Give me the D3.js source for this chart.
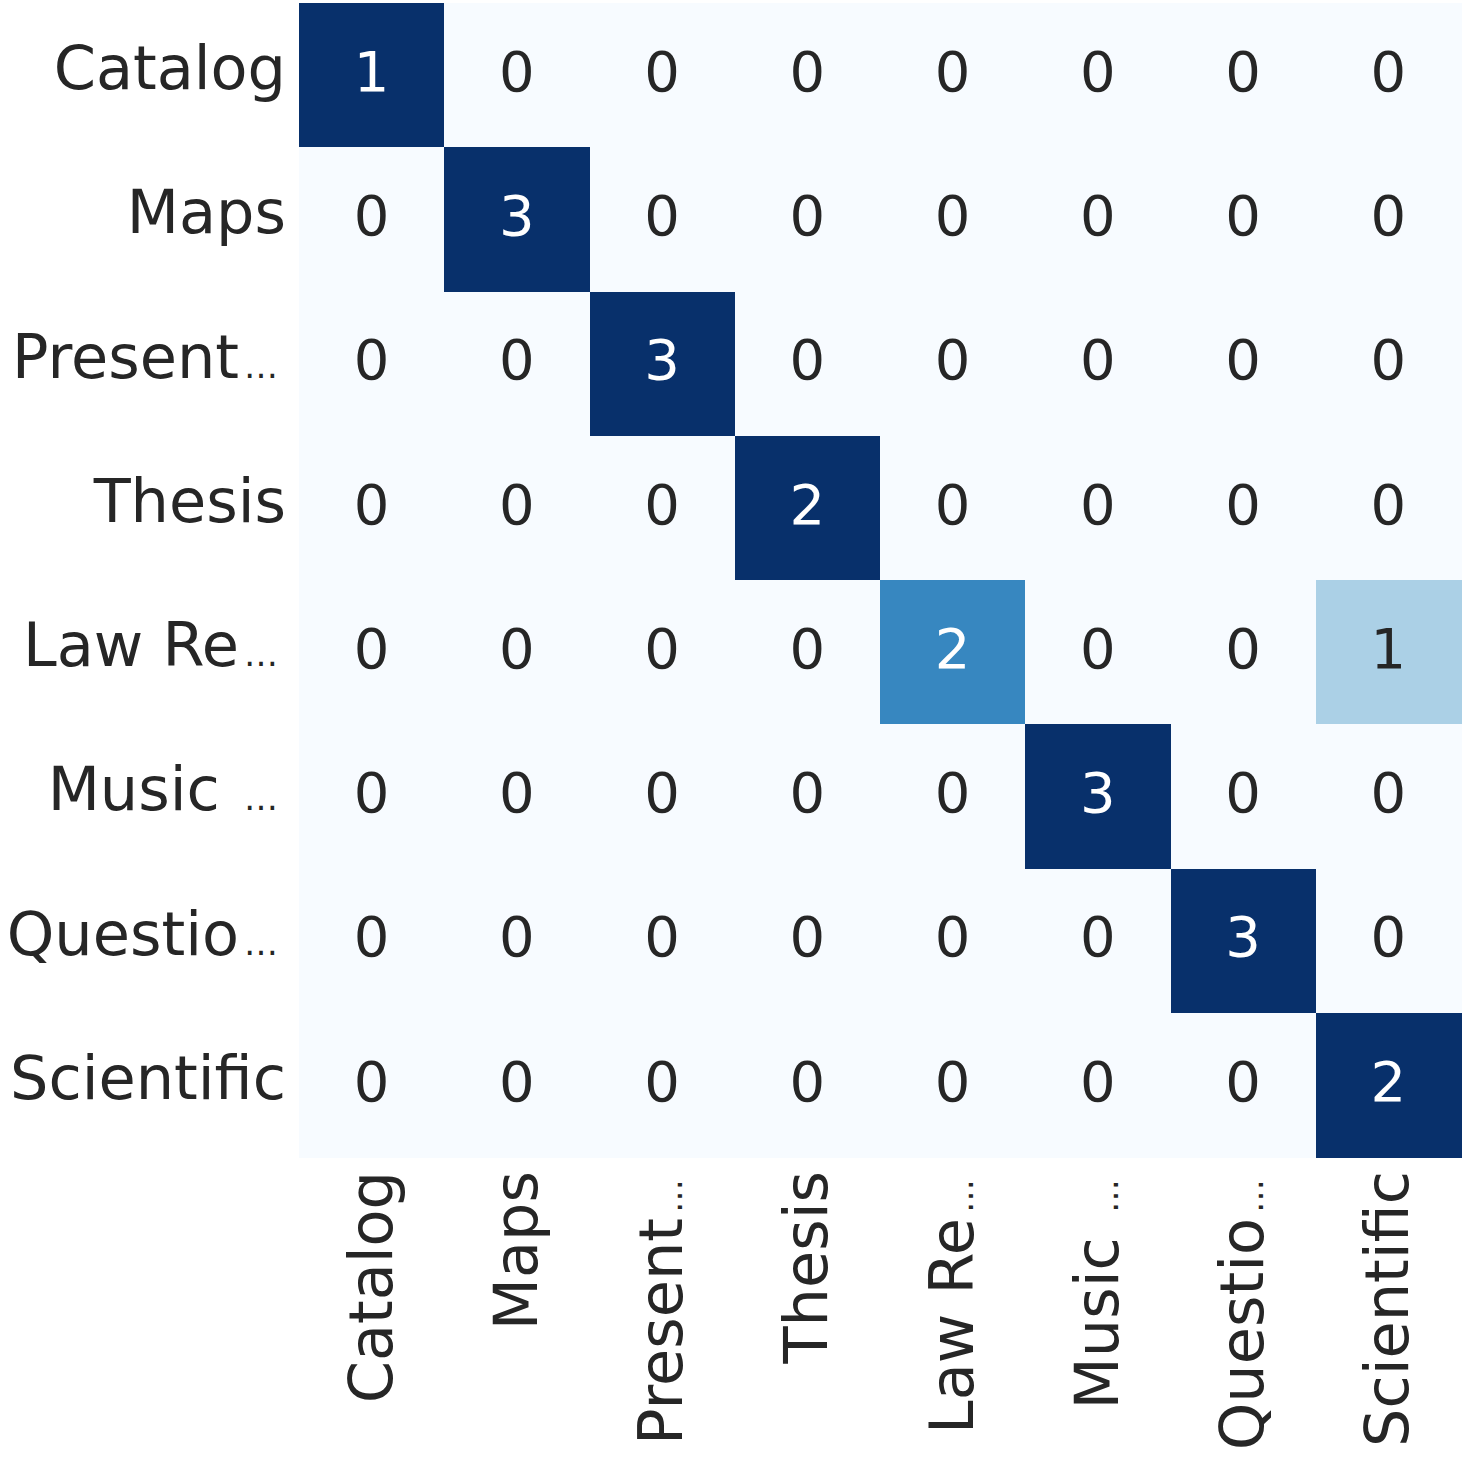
<!DOCTYPE html>
<html>
<head>
<meta charset="utf-8">
<script src="https://cdn.jsdelivr.net/npm/d3@7"></script>
<style>
  html, body { margin: 0; padding: 0; background: #ffffff; }
  svg { display: block; }
</style>
</head>
<body>
<svg id="chart" width="1470" height="1462"></svg>
<script>
// ---- data ----
const categories = ["Catalog", "Maps", "Present…", "Thesis", "Law Re…", "Music …", "Questio…", "Scientific"];
const rowCatalog    = [1, 0, 0, 0, 0, 0, 0, 0];
const rowMaps       = [0, 3, 0, 0, 0, 0, 0, 0];
const rowPresent    = [0, 0, 3, 0, 0, 0, 0, 0];
const rowThesis     = [0, 0, 0, 2, 0, 0, 0, 0];
const rowLawRe      = [0, 0, 0, 0, 2, 0, 0, 1];
const rowMusic      = [0, 0, 0, 0, 0, 3, 0, 0];
const rowQuestio    = [0, 0, 0, 0, 0, 0, 3, 0];
const rowScientific = [0, 0, 0, 0, 0, 0, 0, 2];
const matrix = [rowCatalog, rowMaps, rowPresent, rowThesis, rowLawRe, rowMusic, rowQuestio, rowScientific];
const bluesStops = ["#f7fbff", "#deebf7", "#c6dbef", "#9ecae1", "#6baed6", "#4292c6", "#2171b5", "#08519c", "#08306b"];

// ---- layout ----
const margin = { left: 299, top: 3, width: 1162, height: 1154 };
const labelFont = 60.5, annotFont = 56, ellipsisFont = 34, ellipsisShift = 8;
const svg = d3.select("#chart");

const x = d3.scaleBand().domain(categories).range([margin.left, margin.left + margin.width]).padding(0);
const y = d3.scaleBand().domain(categories).range([margin.top, margin.top + margin.height]).padding(0);
const color = d3.scaleLinear()
  .domain(bluesStops.map((_, i) => i / (bluesStops.length - 1)))
  .range(bluesStops)
  .interpolate(d3.interpolateRgb);

const cells = [];
matrix.forEach((row, i) => {
  const total = d3.sum(row);
  row.forEach((v, j) => {
    cells.push({ r: categories[i], c: categories[j], v, norm: total ? v / total : 0 });
  });
});

svg.append("g").selectAll("rect").data(cells).join("rect")
  .attr("x", d => x(d.c))
  .attr("y", d => y(d.r))
  .attr("width", x.bandwidth() + 0.5)
  .attr("height", y.bandwidth() + 0.5)
  .attr("fill", d => color(d.norm))
  .attr("shape-rendering", "crispEdges");

function lum(hex) {
  const c = d3.rgb(hex);
  const f = v => { v /= 255; return v <= 0.03928 ? v / 12.92 : Math.pow((v + 0.055) / 1.055, 2.4); };
  return 0.2126 * f(c.r) + 0.7152 * f(c.g) + 0.0722 * f(c.b);
}

svg.append("g").selectAll("text").data(cells).join("text")
  .attr("x", d => x(d.c) + x.bandwidth() / 2)
  .attr("y", d => y(d.r) + y.bandwidth() / 2 + annotFont * 0.28)
  .attr("text-anchor", "middle")
  .attr("font-family", "DejaVu Sans")
  .attr("font-size", annotFont)
  .attr("fill", d => lum(color(d.norm)) > 0.408 ? "#262626" : "#ffffff")
  .text(d => d.v);

// label writer: a truncated label's trailing ellipsis is drawn small, as in the reference
function writeLabel(sel) {
  sel.each(function(d) {
    const t = d3.select(this);
    t.text(null);
    if (d.endsWith("…")) {
      t.append("tspan").text(d.slice(0, -1));
      t.append("tspan").attr("font-size", ellipsisFont).attr("dx", 5).text("…");
    } else {
      t.text(d);
    }
  });
}

// y axis labels
const yAxis = d3.axisLeft(y).tickSize(0).tickPadding(13);
const gy = svg.append("g").attr("transform", `translate(${margin.left},0)`).call(yAxis);
gy.select(".domain").remove();
gy.selectAll("text")
  .attr("font-family", "DejaVu Sans")
  .attr("font-size", labelFont)
  .attr("fill", "#262626")
  .attr("dy", null)
  .attr("y", 14)
  .attr("x", d => -13 - (d.endsWith("…") ? ellipsisShift : 0))
  .call(writeLabel);

// x axis labels
const xAxis = d3.axisBottom(x).tickSize(0).tickPadding(0);
const gx = svg.append("g").attr("transform", `translate(0,${margin.top + margin.height})`).call(xAxis);
gx.select(".domain").remove();
gx.selectAll("text")
  .attr("font-family", "DejaVu Sans")
  .attr("font-size", labelFont)
  .attr("fill", "#262626")
  .attr("text-anchor", "end")
  .attr("dy", null)
  .attr("x", d => d.endsWith("…") ? -ellipsisShift : 0)
  .attr("y", 0)
  .attr("transform", "translate(20,14) rotate(-90)")
  .call(writeLabel);
</script>
</body>
</html>
